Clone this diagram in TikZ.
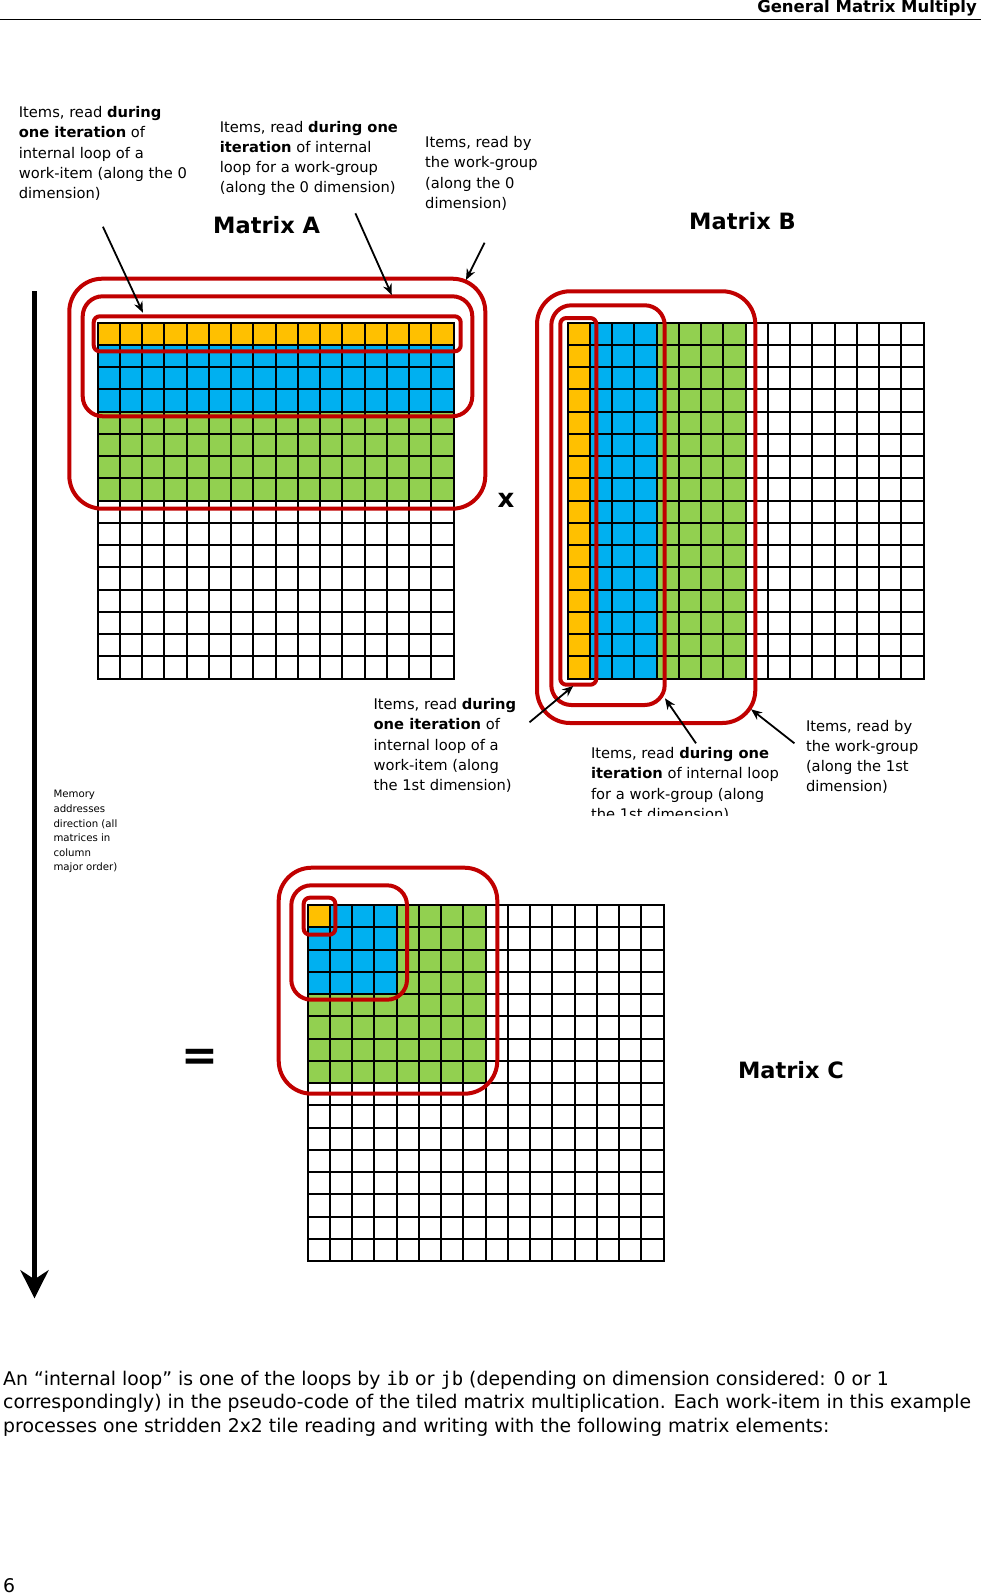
\documentclass[tikz,border=0pt]{standalone}
\usepackage{fontspec}
\setmainfont{DejaVu Sans}
\setmonofont{DejaVu Sans Mono}
\usetikzlibrary{arrows.meta}
\definecolor{cyel}{HTML}{FFC000}
\definecolor{cblu}{HTML}{00B0F0}
\definecolor{cgrn}{HTML}{92D050}
\definecolor{cred}{HTML}{C00000}
\newcommand\matgrid[2]{%
  \foreach \i in {0,...,16} {%
    \draw[gridline] ({#1+\i*22.25},#2) -- ({#1+\i*22.25},{#2+356});
    \draw[gridline] (#1,{#2+\i*22.25}) -- ({#1+356},{#2+\i*22.25});
  }}
\begin{document}
\begin{tikzpicture}[x=1pt,y=-1pt,
  gridline/.style={line width=2pt, black, line cap=rect},
  redbox/.style={draw=cred, line width=4pt},
  lbl/.style={anchor=north west, inner sep=0pt, align=left, font=\fontsize{14.7}{20.2}\selectfont},
  ann/.style={-{Stealth[length=11pt,width=9pt]}, line width=1.8pt},
  mtitle/.style={anchor=base west, inner sep=0pt, font=\fontsize{22.5}{27}\selectfont\bfseries},
]
\useasboundingbox (0,0) rectangle (981,1595);

% header
\node[anchor=base east, inner sep=0pt, font=\fontsize{16.5}{20}\selectfont\bfseries] (hdr) at (977,13) {General Matrix Multiply};
\coordinate (rl) at (0,19.3);
\coordinate (rr) at (981,19.3);
\draw[line width=1.3pt] (rl) -- (rr);

% Matrix A fills
\fill[cgrn] (97.7,322.7) rectangle (453.7,500.7);
\fill[cblu] (97.7,322.7) rectangle (453.7,411.7);
\fill[cyel] (97.7,322.7) rectangle (453.7,344.95);
\matgrid{97.7}{322.7}

% Matrix B fills
\fill[cgrn] (567.7,322.7) rectangle (745.7,678.7);
\fill[cblu] (567.7,322.7) rectangle (656.7,678.7);
\fill[cyel] (567.7,322.7) rectangle (589.95,678.7);
\matgrid{567.7}{322.7}

% Matrix C fills
\fill[cgrn] (307.7,905) rectangle (485.7,1083);
\fill[cblu] (307.7,905) rectangle (396.7,994);
\fill[cyel] (307.7,905) rectangle (329.95,927.25);
\matgrid{307.7}{905}

% red boxes A
\draw[redbox, rounded corners=6pt] (93.7,316.3) rectangle (460.7,351.3);
\draw[redbox, rounded corners=20pt] (82.7,296.3) rectangle (472.3,416.3);
\draw[redbox, rounded corners=33pt] (69.3,278.7) rectangle (485.3,508.7);
% red boxes B
\draw[redbox, rounded corners=6pt] (560.3,318) rectangle (596.3,684.7);
\draw[redbox, rounded corners=20pt] (551.3,305.3) rectangle (664.7,705);
\draw[redbox, rounded corners=33pt] (537,291.3) rectangle (755.3,723);
% red boxes C
\draw[redbox, rounded corners=6pt] (303.7,897.7) rectangle (335.3,934.7);
\draw[redbox, rounded corners=20pt] (291.3,885.3) rectangle (407,999.7);
\draw[redbox, rounded corners=33pt] (278.7,867.7) rectangle (497.3,1093.7);

% titles
\node[mtitle] (mA) at (213,233.3) {Matrix A};
\node[mtitle] (mB) at (689,229) {Matrix B};
\node[mtitle] (mC) at (737.8,1078.8) {Matrix C};
\node[inner sep=0pt, font=\fontsize{26}{30}\selectfont\bfseries] (times) at (506,500) {x};
\node[inner sep=0pt, font=\fontsize{44}{50}\selectfont\bfseries] (eq) at (199.5,1060.2) {=};

% labels
\node[lbl] (la1) at (18.6,106.3) {Items, read \textbf{during}\\\textbf{one iteration} of\\internal loop of a\\work-item (along the 0\\dimension)};
\node[lbl] (la2) at (219.6,120.7) {Items, read \textbf{during one}\\\textbf{iteration} of internal\\loop for a work-group\\(along the 0 dimension)};
\node[lbl] (la3) at (425,136.3) {Items, read by\\the work-group\\(along the 0\\dimension)};
\node[lbl] (lb1) at (373.4,698.3) {Items, read \textbf{during}\\\textbf{one iteration} of\\internal loop of a\\work-item (along\\the 1st dimension)};
\begin{scope}
\clip (580,735) rectangle (800,815);
\node[lbl] (lb2) at (590.8,747.3) {Items, read \textbf{during one}\\\textbf{iteration} of internal loop\\for a work-group (along\\the 1st dimension)};
\end{scope}
\node[lbl] (lb3) at (805.8,719.7) {Items, read by\\the work-group\\(along the 1st\\dimension)};
\node[anchor=north west, inner sep=0pt, align=left, font=\fontsize{10.2}{14.6}\selectfont] (mem) at (53.3,790.3) {Memory\\addresses\\direction (all\\matrices in\\column\\major order)};

% annotation arrows
\coordinate (a1s) at (102.9,226.7); \coordinate (a1e) at (142.9,312.7);
\coordinate (a2s) at (355.4,213.3); \coordinate (a2e) at (391.8,295);
\coordinate (a3s) at (484.6,242.7); \coordinate (a3e) at (466,280);
\coordinate (b1s) at (529.5,722.3); \coordinate (b1e) at (573.2,686);
\coordinate (b2s) at (696,743.3);   \coordinate (b2e) at (665,698.3);
\coordinate (b3s) at (794.4,743.3); \coordinate (b3e) at (751.1,709.3);
\draw[ann] (a1s) -- (a1e);
\draw[ann] (a2s) -- (a2e);
\draw[ann] (a3s) -- (a3e);
\draw[ann] (b1s) -- (b1e);
\draw[ann] (b2s) -- (b2e);
\draw[ann] (b3s) -- (b3e);

% memory direction arrow
\coordinate (mtop) at (34.5,291);
\coordinate (mbot) at (34.5,1298.3);
\draw[line width=5.6pt, -{Stealth[length=28pt,width=28pt,inset=9pt]}] (mtop) -- (mbot);

% paragraph
\node[anchor=north west, inner sep=0pt, align=left, font=\fontsize{18.85}{23.4}\selectfont] (par) at (3,1370.8) {An “internal loop” is one of the loops by \texttt{ib} or \texttt{jb} (depending on dimension considered: 0 or 1\\correspondingly) in the pseudo-code of the tiled matrix multiplication. Each work-item in this example\\processes one stridden 2x2 tile reading and writing with the following matrix elements:};
\node[anchor=base west, inner sep=0pt, font=\fontsize{18.85}{23.4}\selectfont] (pg) at (3,1592.5) {6};
\end{tikzpicture}
\end{document}
